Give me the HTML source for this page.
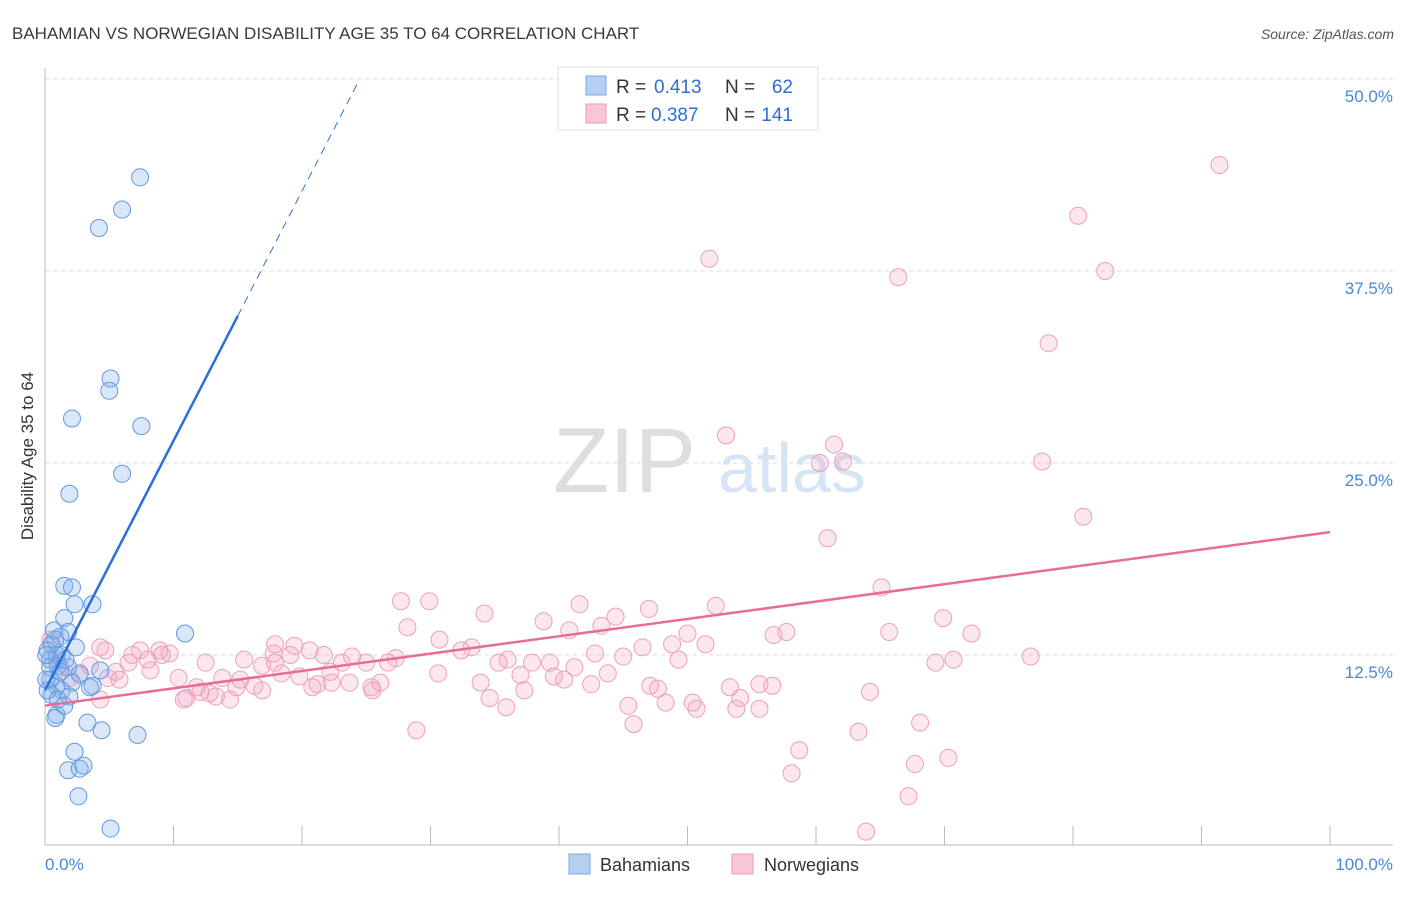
<!DOCTYPE html>
<html><head><meta charset="utf-8"><style>
body{margin:0;background:#fff;font-family:"Liberation Sans",sans-serif}
svg text{font-family:"Liberation Sans",sans-serif}
</style></head><body>
<svg id="chart" width="1406" height="892" viewBox="0 0 1406 892" xmlns="http://www.w3.org/2000/svg">
<text x="12" y="39" font-size="17" fill="#3a3a3a">BAHAMIAN VS NORWEGIAN DISABILITY AGE 35 TO 64 CORRELATION CHART</text>
<text x="1394" y="39" font-size="14" fill="#555" font-style="italic" text-anchor="end">Source: ZipAtlas.com</text>
<g>
<text x="553" y="492" font-size="92" fill="#dedede" font-family="Liberation Serif,serif">ZIP</text>
<text x="718" y="492" font-size="70" fill="#d6e5f5">atlas</text>
</g>
<g id="grid"></g>
<line x1="45" y1="68" x2="45" y2="845" stroke="#bbb"/>
<line x1="45" y1="845" x2="1393" y2="845" stroke="#bbb"/>
<text transform="translate(33,456) rotate(-90)" font-size="17" fill="#333" text-anchor="middle">Disability Age 35 to 64</text>
<text x="45" y="870" font-size="17" fill="#4a86d8">0.0%</text>
<text x="1393" y="870" font-size="17" fill="#4a86d8" text-anchor="end">100.0%</text>
<g id="points"></g>
<g id="trends"></g>
<g>
<rect x="558" y="67" width="260" height="63" fill="#fff" stroke="#ddd"/>
<rect x="586" y="76" width="20" height="19" fill="#b4d0f3" stroke="#7aa8e6"/>
<rect x="586" y="104" width="20" height="19" fill="#f9c6d6" stroke="#ee9ab7"/>
<text x="616" y="93" font-size="19" fill="#333">R =</text>
<text x="654" y="93" font-size="19" fill="#2f6fd0">0.413</text>
<text x="725" y="93" font-size="19" fill="#333">N =</text>
<text x="793" y="93" font-size="19" fill="#2f6fd0" text-anchor="end">62</text>
<text x="616" y="121" font-size="19" fill="#333">R =</text>
<text x="651" y="121" font-size="19" fill="#2f6fd0">0.387</text>
<text x="725" y="121" font-size="19" fill="#333">N =</text>
<text x="793" y="121" font-size="19" fill="#2f6fd0" text-anchor="end">141</text>
</g>
<g>
<rect x="569" y="854" width="21" height="20" fill="#b4d0f3" stroke="#7aa8e6"/>
<text x="600" y="871" font-size="18" fill="#333">Bahamians</text>
<rect x="732" y="854" width="21" height="20" fill="#f9c6d6" stroke="#ee9ab7"/>
<text x="764" y="871" font-size="18" fill="#333">Norwegians</text>
</g>
</svg>
<script>
const yTicks=[12.5,25,37.5,50];
const yTickLabels=["12.5%","25.0%","37.5%","50.0%"];
const blueX=[7.4,6.0,4.2,5.1,5.0,2.1,7.5,6.0,1.9,1.5,2.1,2.3,3.7,1.5,1.8,10.9,1.2,0.8,0.5,0.2,2.4,0.9,1.3,0.4,1.0,1.8,2.7,0.4,0.9,2.1,3.7,1.3,4.3,0.5,1.9,0.9,0.8,3.3,4.4,7.2,2.3,1.8,2.7,3.0,2.6,5.1,0.4,0.2,1.2,1.6,0.7,0.1,0.1,3.5,1.5,1.0];
const blueY=[43.6,41.5,40.3,30.5,29.7,27.9,27.4,24.3,23.0,17.0,16.9,15.8,15.8,14.9,14.0,13.9,13.7,13.5,13.2,12.8,13.0,12.5,12.5,12.2,11.8,11.7,11.3,10.9,10.5,10.7,10.5,10.2,11.5,9.9,9.8,8.6,8.4,8.1,7.6,7.3,6.2,5.0,5.1,5.3,3.3,1.2,11.7,10.2,11.4,12.2,14.1,12.5,10.9,10.4,9.2,9.6];
const pinkX=[91.4,80.4,51.7,66.4,82.5,78.1,53.0,61.4,60.3,62.1,77.6,80.8,60.9,65.1,27.7,29.9,41.6,34.2,44.4,47.0,52.2,38.8,28.2,40.8,43.3,50.0,56.7,57.7,65.7,69.9,72.1,30.7,33.2,17.9,19.4,32.4,46.5,48.8,51.4,42.8,45.0,49.3,36.0,37.9,39.3,35.3,41.2,43.8,37.0,39.6,40.4,30.6,33.9,42.5,47.1,47.7,37.3,53.3,55.6,56.6,54.1,64.2,34.6,35.9,45.4,48.3,50.4,50.7,53.8,55.6,69.3,70.7,76.7,68.1,63.3,28.9,45.8,58.7,58.1,67.7,70.3,67.2,63.9,0.4,4.3,4.7,6.8,8.9,9.7,10.4,11.8,11.0,12.1,12.8,13.8,15.2,14.9,16.3,16.9,17.9,16.9,18.4,19.8,20.8,21.2,20.6,21.7,22.3,23.1,23.9,25.0,25.5,26.1,26.7,27.3,23.7,14.4,13.3,10.8,8.0,6.5,5.5,4.9,3.5,2.7,1.9,1.2,0.9,4.3,7.4,8.2,9.1,12.5,15.5,17.8,19.1,22.2,25.4,5.8];
const pinkY=[44.4,41.1,38.3,37.1,37.5,32.8,26.8,26.2,25.0,25.1,25.1,21.5,20.1,16.9,16.0,16.0,15.8,15.2,15.0,15.5,15.7,14.7,14.3,14.1,14.4,13.9,13.8,14.0,14.0,14.9,13.9,13.5,13.0,13.2,13.1,12.8,13.0,13.2,13.2,12.6,12.4,12.2,12.2,12.0,12.0,12.0,11.7,11.3,11.2,11.1,10.9,11.3,10.7,10.6,10.5,10.3,10.2,10.4,10.6,10.5,9.7,10.1,9.7,9.1,9.2,9.4,9.4,9.0,9.0,9.0,12.0,12.2,12.4,8.1,7.5,7.6,8.0,6.3,4.8,5.4,5.8,3.3,1.0,13.5,13.0,12.8,12.5,12.8,12.6,11.0,10.4,9.7,10.1,10.0,11.0,10.9,10.4,10.5,11.8,12.0,10.2,11.3,11.1,10.4,10.6,12.8,12.5,10.7,12.0,12.4,12.0,10.2,10.7,12.0,12.3,10.7,9.6,9.8,9.6,12.2,12.0,11.4,11.0,11.8,11.2,11.0,11.7,12.2,9.6,12.8,11.5,12.5,12.0,12.2,12.6,12.5,11.4,10.4,10.9];
const blueTrend=[10.2,0.5];
const pinkTrend=[9.2,0.113];
const X=v=>45+v*12.85, Y=v=>847-v*15.36;
const NS="http://www.w3.org/2000/svg";
function mk(tag,attrs,parent){const e=document.createElementNS(NS,tag);for(const k in attrs)e.setAttribute(k,attrs[k]);parent.appendChild(e);return e;}
const grid=document.getElementById('grid');
yTicks.forEach((t,i)=>{
  const l=mk('line',{x1:45,x2:1393,y1:Y(t),y2:Y(t),stroke:'#ddd','stroke-dasharray':'4,4'},grid);
  
  
  const tx=mk('text',{x:1393,y:Y(t)+23,'font-size':17,fill:'#4a86d8','text-anchor':'end'},grid);
  tx.textContent=yTickLabels[i];
  
  
});
for(let k=1;k<=10;k++){const x=45+k*128.5;const l=mk('line',{x1:x,x2:x,y1:826,y2:845,stroke:'#bbb'},grid);
  
  }
const pts=document.getElementById('points');
pinkX.forEach((x,i)=>{const c=mk('circle',{cx:X(x),cy:Y(pinkY[i]),r:8.5,fill:'rgba(244,160,190,0.25)',stroke:'#ee9fbb','stroke-width':1},pts);
  
  });
blueX.forEach((x,i)=>{const c=mk('circle',{cx:X(x),cy:Y(blueY[i]),r:8.5,fill:'rgba(130,175,235,0.3)',stroke:'#6399e0','stroke-width':1},pts);
  
  });
const tr=document.getElementById('trends');
const bf=x=>blueTrend[0]+blueTrend[1]*x*3.25;
let l=mk('line',{x1:X(0),y1:Y(bf(0)),x2:X(15),y2:Y(bf(15)),stroke:'#2a6fd6','stroke-width':2.5},tr);


l=mk('line',{x1:X(15),y1:Y(bf(15)),x2:X(24.3),y2:Y(bf(24.3)),stroke:'#2a6fd6','stroke-width':1,'stroke-dasharray':'8,6'},tr);


const pf=x=>pinkTrend[0]+pinkTrend[1]*x;
l=mk('line',{x1:X(0),y1:Y(pf(0)),x2:X(100),y2:Y(pf(100)),stroke:'#e86c98','stroke-width':2.5},tr);


</script>
</body></html>
